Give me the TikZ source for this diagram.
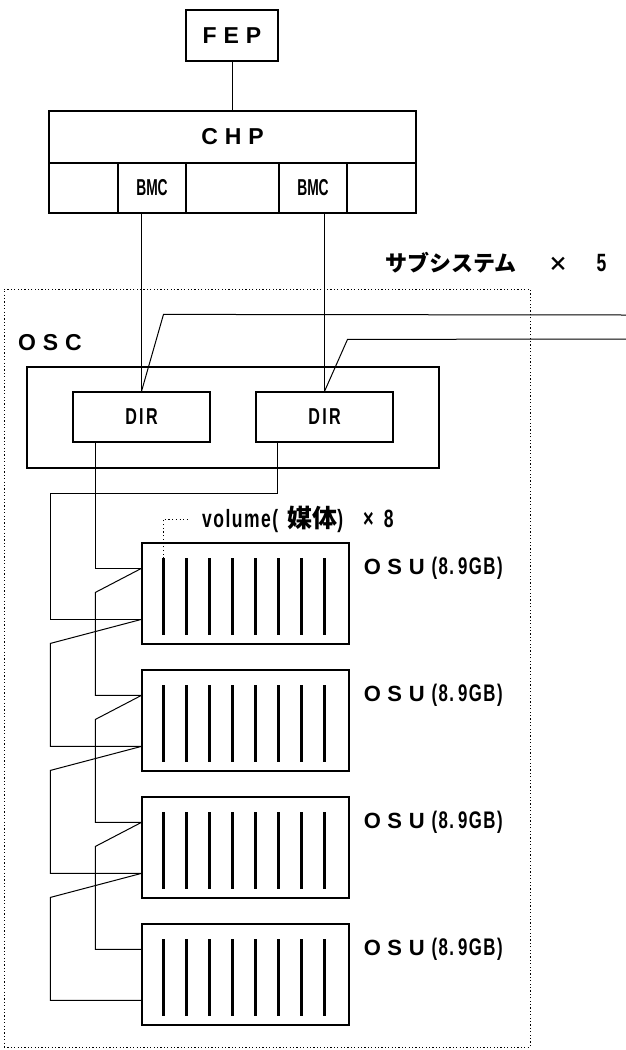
\documentclass[tikz,border=0pt]{standalone}
\usepackage{fontspec}
\setmainfont{Liberation Sans}
\newfontfamily\widefont[LetterSpace=30]{Liberation Sans}
\newfontfamily\condfont[FakeStretch=0.7,LetterSpace=6]{Liberation Sans}
\newfontfamily\dirfont[FakeStretch=0.7,LetterSpace=10]{Liberation Sans}
\newfontfamily\bmcfont[FakeStretch=0.6]{Liberation Sans}
\newfontfamily\jpfont{Noto Sans CJK JP}
\usetikzlibrary{calc}
\tikzset{
  blk/.style={draw,line width=1.2pt,inner sep=0pt},
  big/.style={font=\widefont\bfseries\fontsize{23}{25}\selectfont},
  dirf/.style={font=\dirfont\bfseries\fontsize{23}{25}\selectfont},
  bmcf/.style={font=\bmcfont\bfseries\fontsize{23}{25}\selectfont},
  txt/.style={inner sep=0pt},
  osubox/.style={blk,minimum width=207pt,minimum height=101pt},
  dirbox/.style={blk,minimum width=137pt,minimum height=50pt,dirf},
  cellbox/.style={blk,minimum height=50pt},
  bar/.style={line width=2.6pt},
  subframe/.style={draw,line width=1pt,dash pattern=on 1.2pt off 2.2pt,inner sep=0pt},
  volline/.style={line width=1pt,dash pattern=on 1.2pt off 2.5pt},
  wire/.style={line width=1pt}
}
\begin{document}
\begin{tikzpicture}[x=1pt,y=-1pt]
\useasboundingbox (0,0) rectangle (626,1050);
% subsystem frame
\node[subframe,minimum width=526pt,minimum height=758pt] (sub) at (267,668) {};
\node[txt,anchor=west] (sublbl) at (385,263)
  {{\jpfont\bfseries\fontsize{22}{24}\selectfont サブシステム}\hspace{32pt}{\jpfont\bfseries\fontsize{20}{22}\selectfont ×}\hspace{28pt}{\condfont\bfseries\fontsize{25}{27}\selectfont 5}};
% FEP and CHP
\node[blk,big,minimum width=92pt,minimum height=51pt] (fep) at (232,35.5) {FEP};
\node[blk,big,minimum width=367pt,minimum height=52pt] (chp) at (232.5,137) {CHP};
\node[cellbox,minimum width=69pt] (cell1) at (83.5,188) {};
\node[cellbox,bmcf,minimum width=68pt] (bmc1) at (152,188) {BMC};
\node[cellbox,minimum width=93pt] (cell2) at (232.5,188) {};
\node[cellbox,bmcf,minimum width=68pt] (bmc2) at (313,188) {BMC};
\node[cellbox,minimum width=69pt] (cell3) at (381.5,188) {};
% OSC
\node[txt,big,anchor=west] (osclbl) at (18,343) {OSC};
\node[blk,minimum width=412pt,minimum height=101pt] (osc) at (233,417.5) {};
\node[dirbox] (dir1) at (141.5,417) {DIR};
\node[dirbox] (dir2) at (324.5,417) {DIR};
% OSUs
\foreach \k/\cy in {1/593.5,2/720.5,3/847.5,4/974.5}{
  \node[osubox] (osu\k) at (245.5,\cy) {};
  \foreach \i in {0,...,7}{
    \draw[bar] ($(osu\k.north west)+(22+23*\i,16)$) -- ++(0,77);
  }
  \path (osu\k.north west) ++(0,26) coordinate (a\k) ++(0,51) coordinate (b\k);
  \node[txt,anchor=west] (lbl\k) at ($(osu\k.north east)+(14,26)$)
    {{\widefont\bfseries\fontsize{22}{24}\selectfont OSU}\hspace{7pt}{\condfont\bfseries\fontsize{24}{26}\selectfont(8.\,9GB)}};
}
% volume label
\node[txt,anchor=west] (vol) at (202,519)
  {{\condfont\bfseries\fontsize{25}{27}\selectfont volume(}\hspace{9pt}{\jpfont\bfseries\fontsize{25}{27}\selectfont 媒体}{\condfont\bfseries\fontsize{25}{27}\selectfont)\hspace{20pt}{\fontsize{26}{28}\selectfont×}\hspace{10pt}8}};
\draw[volline] ($(osu1.north west)+(22,16)$) |- ($(vol.west)+(-15,0)$);
% connectors
\draw[wire] (fep.south) -- (fep.south |- chp.north);
\draw[wire] (dir1.north) -- (dir1.north |- bmc1.south);
\draw[wire] (dir2.north) -- (dir2.north |- bmc2.south);
\coordinate (e1) at (626,315);
\coordinate (e2) at (626,339);
\draw[wire] (dir1.north) -- ++(22,-77) -- (e1);
\draw[wire] (dir2.north) -- ++(23,-52) -- (e2);
% daisy chain A
\coordinate (xa) at ($(dir1.south west)+(23,0)$);
\draw[wire] (xa) |- (a1);
\foreach \i/\j in {1/2,2/3,3/4}{
  \draw[wire] (a\i) -- ++(-46,24) |- (a\j);
}
% daisy chain B
\coordinate (xb) at ($(dir2.south west)+(22,0)$);
\draw[wire] (xb) -- ++(0,51) -- ++(-227,0) |- (b1);
\foreach \i/\j in {1/2,2/3,3/4}{
  \draw[wire] (b\i) -- ++(-91,24) |- (b\j);
}
\end{tikzpicture}
\end{document}
